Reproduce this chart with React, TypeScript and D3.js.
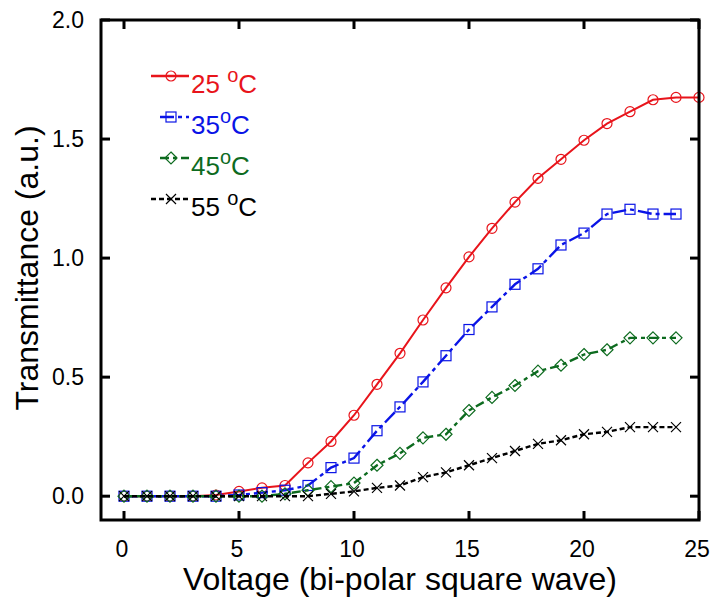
import React, { useEffect, useRef } from "react";
import * as d3 from "d3";

const voltage = d3.range(0, 26);
const t25 = [0, 0, 0, 0, 0.005, 0.02, 0.035, 0.045, 0.14, 0.23, 0.34, 0.47, 0.6, 0.74, 0.875, 1.005, 1.125, 1.235, 1.335, 1.415, 1.495, 1.565, 1.615, 1.665, 1.675, 1.675];
const t35 = [0, 0, 0, 0, 0, 0.005, 0.015, 0.025, 0.045, 0.12, 0.16, 0.275, 0.375, 0.48, 0.59, 0.7, 0.795, 0.89, 0.955, 1.055, 1.105, 1.185, 1.205, 1.185, 1.185];
const t45 = [0, 0, 0, 0, 0, 0, 0, 0.01, 0.025, 0.04, 0.055, 0.13, 0.18, 0.245, 0.26, 0.36, 0.415, 0.465, 0.525, 0.55, 0.595, 0.615, 0.665, 0.665, 0.665];
const t55 = [0, 0, 0, 0, 0, 0, 0, 0, 0, 0.01, 0.02, 0.035, 0.045, 0.08, 0.1, 0.13, 0.16, 0.19, 0.22, 0.235, 0.26, 0.27, 0.29, 0.29, 0.29];
const xTicks = [0, 5, 10, 15, 20, 25];
const yTicks = [0, 0.5, 1.0, 1.5, 2.0];

const series = [
  { name: "25", gap: " ", values: t25, color: "#e8141b", dash: null, marker: "circle", lx: 151 },
  { name: "35", gap: "", values: t35, color: "#0a14e6", dash: "14,4,4,4", marker: "square", lx: 160 },
  { name: "45", gap: "", values: t45, color: "#0d6b1f", dash: "9,4,4,4", marker: "diamond", lx: 160 },
  { name: "55", gap: " ", values: t55, color: "#000000", dash: "5,3", marker: "cross", lx: 151 },
];

function drawMarker(g, type, color) {
  if (type === "circle") {
    g.append("circle").attr("r", 5).attr("fill", "none").attr("stroke", color).attr("stroke-width", 1.2);
  } else if (type === "square") {
    g.append("rect").attr("x", -5).attr("y", -5).attr("width", 10).attr("height", 10)
      .attr("fill", "none").attr("stroke", color).attr("stroke-width", 1.2);
  } else if (type === "diamond") {
    g.append("path").attr("d", "M0,-6L6,0L0,6L-6,0Z").attr("fill", "none").attr("stroke", color).attr("stroke-width", 1.2);
  } else {
    g.append("path").attr("d", "M-5,-5L5,5M-5,5L5,-5").attr("fill", "none").attr("stroke", color).attr("stroke-width", 1.2);
  }
}

const App = () => {
  const svgRef = useRef(null);

  useEffect(() => {
    const svg = d3.select(svgRef.current);
    svg.selectAll("*").remove();

    const width = 712;
    const height = 598;
    const margin = { top: 20, right: 13, bottom: 78, left: 101 };

    const x = d3.scaleLinear().domain([-1, 25]).range([margin.left, width - margin.right]);
    const y = d3.scaleLinear().domain([-0.1, 2.0]).range([height - margin.bottom, margin.top]);

    const font = "Arial, 'Liberation Sans', sans-serif";

    // data lines
    series.forEach((s) => {
      const line = d3.line().x((d, i) => x(voltage[i])).y((d) => y(d));
      svg.append("path")
        .datum(s.values)
        .attr("d", line)
        .attr("fill", "none")
        .attr("stroke", s.color)
        .attr("stroke-width", s.dash ? 2.4 : 2)
        .attr("stroke-dasharray", s.dash);
      s.values.forEach((v, i) => {
        const g = svg.append("g").attr("transform", `translate(${x(voltage[i])},${y(v)})`);
        drawMarker(g, s.marker, s.color);
      });
    });

    // frame
    svg.append("rect")
      .attr("x", margin.left)
      .attr("y", margin.top)
      .attr("width", width - margin.left - margin.right)
      .attr("height", height - margin.top - margin.bottom)
      .attr("fill", "none")
      .attr("stroke", "#000")
      .attr("stroke-width", 3);

    // ticks, inward on all sides
    xTicks.forEach((t) => {
      svg.append("line").attr("x1", x(t)).attr("x2", x(t))
        .attr("y1", y(-0.1)).attr("y2", y(-0.1) - 9).attr("stroke", "#000").attr("stroke-width", 3);
      svg.append("line").attr("x1", x(t)).attr("x2", x(t))
        .attr("y1", y(2.0)).attr("y2", y(2.0) + 9).attr("stroke", "#000").attr("stroke-width", 3);
      svg.append("text").attr("x", x(t) - 2).attr("y", 557)
        .attr("text-anchor", "middle").attr("font-family", font).attr("font-size", 23).text(t);
    });
    yTicks.forEach((t) => {
      svg.append("line").attr("x1", x(-1)).attr("x2", x(-1) + 9)
        .attr("y1", y(t)).attr("y2", y(t)).attr("stroke", "#000").attr("stroke-width", 3);
      svg.append("line").attr("x1", x(25)).attr("x2", x(25) - 9)
        .attr("y1", y(t)).attr("y2", y(t)).attr("stroke", "#000").attr("stroke-width", 3);
      svg.append("text").attr("x", 84).attr("y", y(t) + 8)
        .attr("text-anchor", "end").attr("font-family", font).attr("font-size", 23).text(t.toFixed(1));
    });

    // axis titles
    svg.append("text").attr("x", 400).attr("y", 590)
      .attr("text-anchor", "middle").attr("font-family", font).attr("font-size", 32)
      .text("Voltage (bi-polar square wave)");
    svg.append("text")
      .attr("transform", `translate(38,268) rotate(-90)`)
      .attr("text-anchor", "middle").attr("font-family", font).attr("font-size", 32)
      .text("Transmittance (a.u.)");

    // legend
    series.forEach((s, i) => {
      const ly = 76 + i * 41;
      svg.append("line").attr("x1", s.lx).attr("x2", 189).attr("y1", ly).attr("y2", ly)
        .attr("stroke", s.color).attr("stroke-width", 2.4).attr("stroke-dasharray", s.dash);
      const g = svg.append("g").attr("transform", `translate(171,${ly})`);
      drawMarker(g, s.marker, s.color);
      const txt = svg.append("text").attr("x", 191).attr("y", ly + 17)
        .attr("font-family", font).attr("font-size", 26).attr("fill", s.color);
      txt.append("tspan").text(s.name + s.gap);
      txt.append("tspan").attr("dy", -11).attr("font-size", 20).text("o");
      txt.append("tspan").attr("dy", 11).text("C");
    });
  }, []);

  return (
    <div style={{ width: "100%" }}>
      <svg ref={svgRef} width={712} height={598} style={{ position: "absolute", left: 0, top: 0 }}></svg>
    </div>
  );
};

export default App;
